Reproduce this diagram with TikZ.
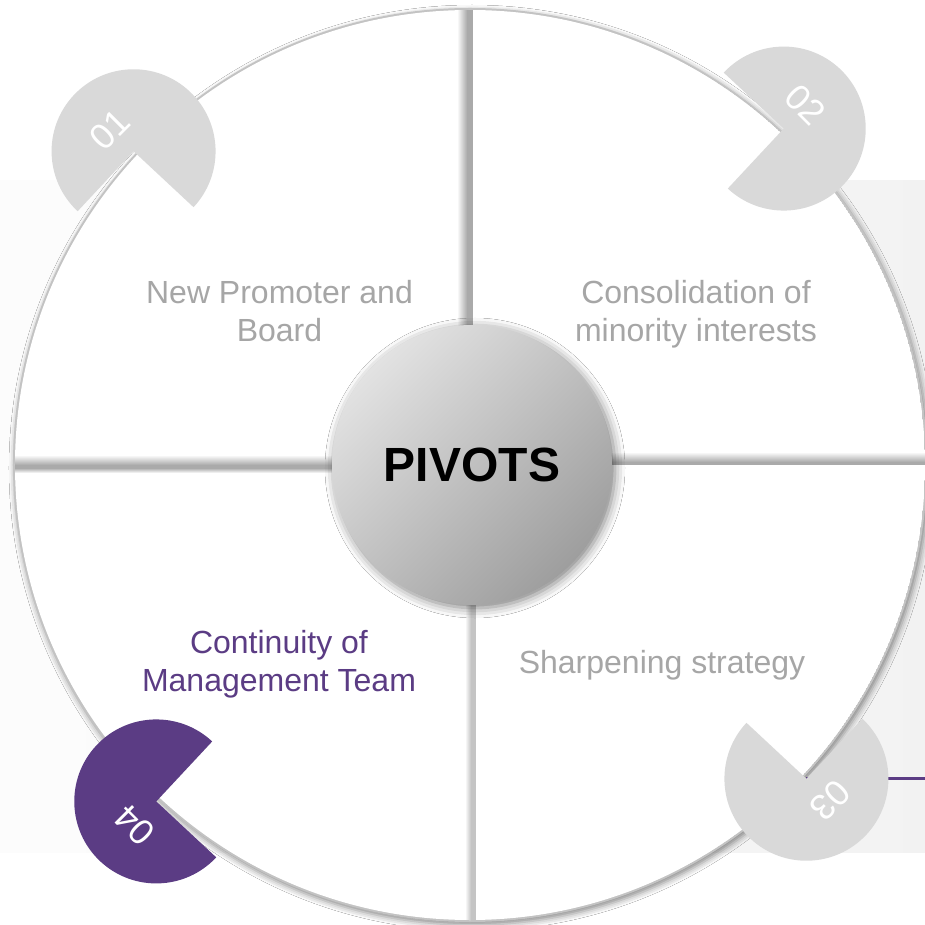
\documentclass[tikz,border=0pt]{standalone}
\usepackage{fontspec}
\setmainfont{Liberation Sans}
\usepackage{tikz}
\usetikzlibrary{shadows.blur}
\definecolor{pivotpurple}{RGB}{91,60,132}
\definecolor{pacgray}{RGB}{217,217,217}
\definecolor{labelgray}{RGB}{166,166,166}
\definecolor{rimgray}{RGB}{195,195,195}
\definecolor{sepgray}{RGB}{170,170,170}
\definecolor{hublight}{RGB}{226,226,226}
\definecolor{hubdark}{RGB}{158,158,158}

\begin{document}
\begin{tikzpicture}[x=1pt, y=1pt,
    quadtext/.style={font=\fontsize{32}{38.5}\selectfont, text=labelgray, align=center, inner sep=0pt},
    numtext/.style={font=\fontsize{36}{36}\selectfont, text=white, inner sep=0pt},
    hubnode/.style={circle, minimum size=280pt, inner sep=0pt,
      top color=hublight, bottom color=hubdark, shading angle=45,
      blur shadow={shadow xshift=3pt, shadow yshift=-3pt, shadow blur radius=10pt, shadow opacity=50},
      font=\fontsize{48}{48}\selectfont\bfseries}
  ]
    \useasboundingbox (-470,-460) rectangle (455,465);
    \fill[white] (-470,-460) rectangle (455,465);
    \fill[left color=black!1, right color=black!5] (-470,-387) rectangle (455,284);

    % wheel with four quarters
    \fill[rimgray, blur shadow={shadow xshift=2pt, shadow yshift=-3pt, shadow blur radius=6pt, shadow opacity=45}] (0,0) circle (457);
    \begin{scope}
      \clip (0,0) circle (455);
      \fill[white] (0,0) circle (455);
      \shade[left color=white, right color=sepgray] (-13,0) rectangle (-3,460);
      \fill[sepgray] (-3,0) rectangle (3,460);
      \shade[bottom color=sepgray, top color=white] (0,3) rectangle (460,13);
      \fill[sepgray] (0,0) rectangle (460,3);
      \shade[bottom color=sepgray, top color=white] (-460,0) rectangle (0,10);
      \shade[top color=sepgray, bottom color=white] (-460,-8) rectangle (0,-3);
      \fill[sepgray] (-460,-3) rectangle (0,0);
      \shade[left color=white, right color=sepgray!70] (-5,-460) rectangle (1,0);
      \fill[sepgray!70] (1,-460) rectangle (6,0);
    \end{scope}

    \foreach \ang [count=\i] in {137,47,-43,227}
      \coordinate (p\i) at (\ang:460);
    \coordinate (east) at (455,0);
    \draw[pivotpurple, line width=2.5pt] (p3) -- (p3 -| east);

    % numbered markers
    \foreach \ang/\num/\col [count=\i] in {137/01/pacgray, 47/02/pacgray, -43/03/pacgray, 227/04/pivotpurple} {
      \fill[\col] (p\i) -- ++(\ang+180:82) arc[start angle=\ang+180, delta angle=270, radius=82] -- cycle;
      \node[numtext, rotate=\ang-92] (n\i) at (\ang:492) {\num};
    }

    \node[hubnode] (hub) at (2,0) {PIVOTS};

    \node[quadtext, anchor=north] (t1) at (-190.5,185) {New Promoter and\\Board};
    \node[quadtext, anchor=north] (t2) at (226,185) {Consolidation of\\minority interests};
    \node[quadtext, anchor=base] (t3) at (192,-208) {Sharpening strategy};
    \node[quadtext, anchor=north, text=pivotpurple] (t4) at (-191,-165) {Continuity of\\Management Team};
\end{tikzpicture}
\end{document}
